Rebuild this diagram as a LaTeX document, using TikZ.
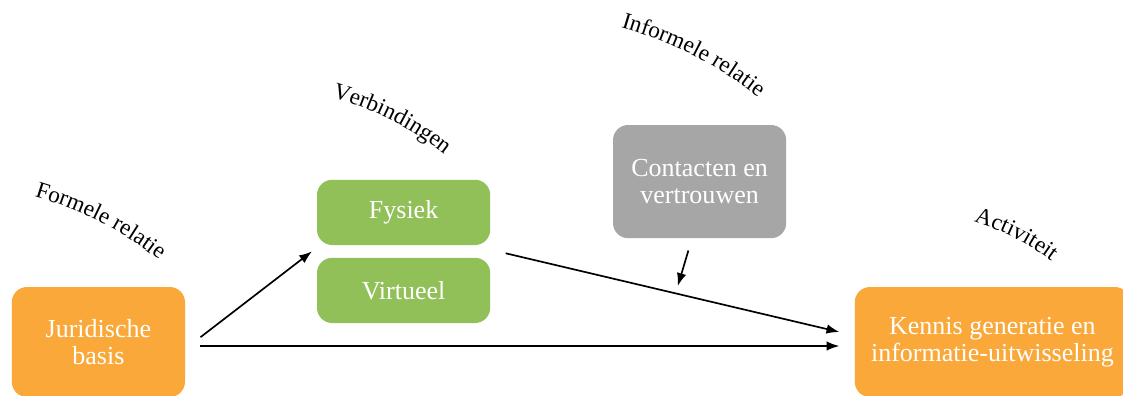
\documentclass[tikz,border=0pt]{standalone}
\usepackage{fontspec}
\setmainfont{Liberation Serif}
\usetikzlibrary{arrows.meta,calc,decorations.text}

\definecolor{boxorange}{RGB}{250,168,58}
\definecolor{boxgreen}{RGB}{146,192,88}
\definecolor{boxgray}{RGB}{166,166,166}

\tikzset{
  box/.style={rounded corners=0.38cm, text=white, align=center, inner sep=0pt,
    minimum width=4.33cm, font=\fontsize{18.5}{19.5}\selectfont},
  arr/.style={-{Latex[length=3.2mm,width=2.4mm]}, line width=1.2pt},
  arclabel/.style={decorate, decoration={text along path, text align=center,
    text={|\fontsize{16.5}{19}\selectfont|#1}}}
}

\begin{document}
\begin{tikzpicture}
    \useasboundingbox (0,0) rectangle (28.075,-9.9);
    \clip (0,0) rectangle (28.075,-9.9);

    % boxes
    \node[box, fill=boxorange, minimum height=2.75cm] (jur) at (2.46,-8.55) {Juridische\\basis};
    \node[box, fill=boxgreen, minimum height=1.63cm] (fys) at (10.09,-5.31) {Fysiek};
    \node[box, fill=boxgreen, minimum height=1.63cm] (vir) at (10.09,-7.26) {Virtueel};
    \node[box, fill=boxgray, minimum height=2.83cm] (con) at (17.49,-4.54) {Contacten en\\vertrouwen};
    \node[box, fill=boxorange, minimum width=6.88cm, minimum height=2.75cm] (ken) at (24.81,-8.55) {Kennis generatie en\\informatie-uitwisseling};

    % curved labels
    \coordinate (lform) at (2.375,-5.8);
    \coordinate (lverb) at (9.675,-3.225);
    \coordinate (linf) at (17.2,-1.65);
    \coordinate (lact) at (25.275,-6.125);
    \path[arclabel=Formele relatie] ($(lform)+(153:2.3)$) to[bend left=12] ($(lform)+(-27:2.3)$);
    \path[arclabel=Verbindingen] ($(lverb)+(153:2)$) to[bend left=12] ($(lverb)+(-27:2)$);
    \path[arclabel=Informele relatie] ($(linf)+(153:2.4)$) to[bend left=12] ($(linf)+(-27:2.4)$);
    \path[arclabel=Activiteit] ($(lact)+(153:1.6)$) to[bend left=12] ($(lact)+(-27:1.6)$);

    % arrows
    \coordinate (gap) at ($(fys.south west)!0.5!(vir.north west)+(-0.12,0)$);
    \coordinate (fysout) at ($(fys.south east)+(0.38,-0.2)$);
    \coordinate (kenin) at ($(ken.west)+(-0.38,0.25)$);
    \draw[arr] ($(jur.east)+(0.38,0.12)$) -- (gap);
    \draw[arr] ($(jur.east)+(0.38,-0.1)$) -- ($(ken.west)+(-0.38,-0.1)$);
    \draw[arr] (fysout) -- (kenin) coordinate[pos=0.516] (hit);
    \draw[arr] ($(con.south)+(-0.28,-0.3)$) -- ($(hit)+(0,0.2)$);
\end{tikzpicture}
\end{document}
